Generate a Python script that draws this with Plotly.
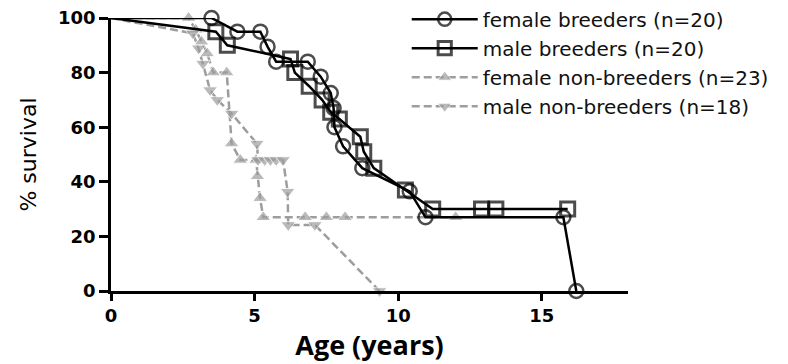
import plotly.graph_objects as go

# Kaplan-Meier style survival curves by group (age in years, % surviving)
fb_age = [0, 3.5, 4.4, 5.2, 5.45, 5.75, 6.85, 7.3, 7.65, 7.75, 7.78, 8.08, 8.75, 10.4, 10.95, 15.75, 16.2]
fb_pct = [100, 100, 95, 95, 89.5, 84, 84, 78.5, 72.5, 67, 60, 53, 45, 36.5, 27, 27, 0]

mb_age = [0, 3.65, 4.05, 6.25, 6.4, 6.9, 7.35, 7.65, 7.95, 8.68, 8.8, 9.15, 10.25, 11.2, 12.9, 13.4, 15.9]
mb_pct = [100, 95, 90, 85, 80, 75, 70, 65.5, 63, 56.5, 51, 45, 37, 30, 30, 30, 30]

fnb_age = [0, 2.7, 2.95, 3.15, 3.35, 3.56, 4.03, 4.2, 4.5, 5.05, 5.1, 5.19, 5.3, 6.76, 7.5, 8.15, 12.0]
fnb_pct = [100, 100, 95.7, 91.3, 87, 80, 80, 54, 48, 48, 42, 34, 27, 27, 27, 27, 27]

mnb_age = [0, 2.85, 3.05, 3.2, 3.45, 3.7, 4.2, 5.08, 5.12, 5.35, 5.55, 5.75, 5.99, 6.15, 6.17, 7.1, 9.35]
mnb_pct = [100, 94.4, 88.9, 83.3, 73.6, 70, 65, 54, 48, 48, 48, 48, 48, 36.4, 24.2, 24.2, 0]

labels = ["female breeders (n=20)", "male breeders (n=20)",
          "female non-breeders (n=23)", "male non-breeders (n=18)"]

GRAY = "#9d9d9d"


def sizes(n, s):
    # no marker on the starting point at age 0
    return [0] + [s] * (n - 1)


fig = go.Figure()

# grey (non-breeder) curves underneath the black ones
fig.add_trace(go.Scatter(
    x=fnb_age, y=fnb_pct, name=labels[2], legendrank=3, mode="lines+markers",
    line=dict(color=GRAY, width=2.5, dash="8px,4px"),
    marker=dict(symbol="triangle-up", size=sizes(len(fnb_age), 13), color=GRAY),
    cliponaxis=False))
fig.add_trace(go.Scatter(
    x=mnb_age, y=mnb_pct, name=labels[3], legendrank=4, mode="lines+markers",
    line=dict(color=GRAY, width=2.5, dash="8px,4px"),
    marker=dict(symbol="triangle-down", size=sizes(len(mnb_age), 13), color=GRAY),
    cliponaxis=False))
fig.add_trace(go.Scatter(
    x=mb_age, y=mb_pct, name=labels[1], legendrank=2, mode="lines+markers",
    line=dict(color="black", width=2.5),
    marker=dict(symbol="square-open", size=sizes(len(mb_age), 14),
                color="black", line=dict(width=3)),
    cliponaxis=False))
fig.add_trace(go.Scatter(
    x=fb_age, y=fb_pct, name=labels[0], legendrank=1, mode="lines+markers",
    line=dict(color="black", width=2.5),
    marker=dict(symbol="circle-open", size=sizes(len(fb_age), 14),
                color="black", line=dict(width=2.5)),
    cliponaxis=False))

tickfont = dict(family="DejaVu Sans", size=18, color="black", weight="bold")

fig.update_layout(
    template="none",
    width=788, height=364,
    margin=dict(l=111, r=160, t=18, b=73, autoexpand=False),
    paper_bgcolor="white", plot_bgcolor="white",
    showlegend=True,
    legend=dict(
        x=0.572, xanchor="left", y=1.067, yanchor="top",
        font=dict(family="DejaVu Sans", size=20, color="#111111"),
        bgcolor="rgba(0,0,0,0)", borderwidth=0, itemwidth=66,
        itemclick=False, itemdoubleclick=False),
    xaxis=dict(
        range=[0, 18], tickvals=[0, 5, 10, 15], showgrid=False, zeroline=False,
        showline=True, linecolor="black", linewidth=2.5,
        ticks="outside", ticklen=7, tickwidth=2.5, tickcolor="black",
        tickfont=tickfont, automargin=False,
        title=dict(text="Age (years)", standoff=9,
                   font=dict(family="Open Sans", size=27, color="black", weight="bold"))),
    yaxis=dict(
        range=[0, 100], tickvals=[0, 20, 40, 60, 80, 100], showgrid=False, zeroline=False,
        showline=True, linecolor="black", linewidth=2.5,
        ticks="outside", ticklen=9, tickwidth=2.5, tickcolor="black",
        tickfont=tickfont, automargin=False,
        title=dict(text="% survival", standoff=16,
                   font=dict(family="DejaVu Sans", size=22, color="black"))),
)

fig.write_html("out.html")
